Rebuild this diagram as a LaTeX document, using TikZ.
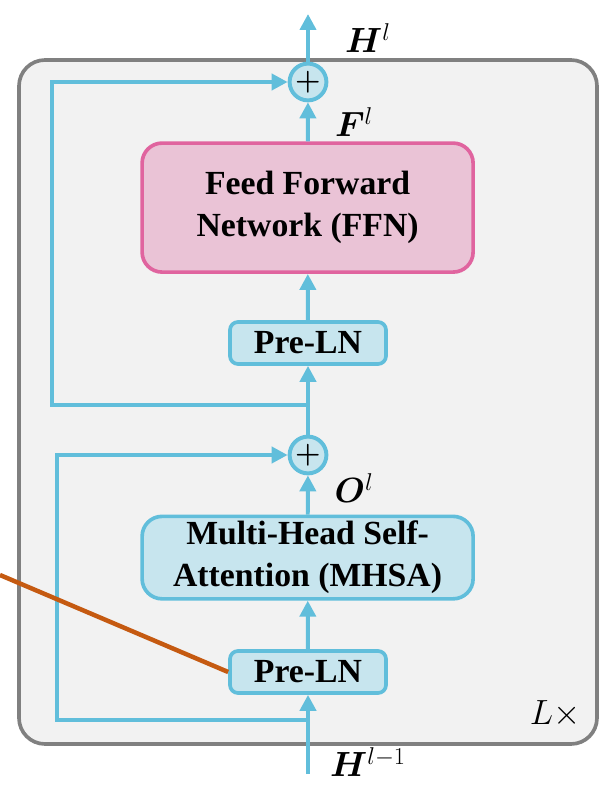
\documentclass[tikz,border=0pt]{standalone}
\usepackage{fontspec}
\setmainfont{Liberation Serif}
\usepackage{amsmath}
\usepackage{amssymb}
\usepackage{bm}
\usepackage{xcolor}
\usetikzlibrary{arrows.meta, positioning, calc}
\definecolor{lnblue}{RGB}{97, 190, 219}
\definecolor{lnfill}{RGB}{199, 229, 238}
\definecolor{ffnpink}{RGB}{224, 100, 159}
\definecolor{ffnfill}{RGB}{234, 195, 214}
\definecolor{blockgray}{RGB}{128, 128, 128}
\definecolor{blockfill}{RGB}{242, 242, 242}
\definecolor{linkorange}{RGB}{197, 90, 17}
\tikzstyle{layer} = [rectangle, rounded corners=0.5cm, minimum width=8.275cm, align=center, draw=lnblue, fill=lnfill, line width=2.6pt, font=\fontsize{24}{30}\selectfont\bfseries]
\tikzstyle{norm} = [rectangle, rounded corners=0.2cm, minimum width=3.9cm, minimum height=1.05cm, text centered, draw=lnblue, fill=lnfill, line width=2.6pt, font=\fontsize{24}{30}\selectfont\bfseries]
\tikzstyle{adder} = [circle, minimum size=0.92cm, inner sep=0pt, draw=lnblue, fill=lnfill, line width=2.8pt, font=\fontsize{20}{24}\selectfont]
\tikzstyle{arrow} = [line width=2.8pt, draw=lnblue, -{Triangle[length=0.4cm, width=0.4cm]}]
\tikzstyle{tag} = [font=\fontsize{27}{30}\selectfont]

\begin{document}
\begin{tikzpicture}
\useasboundingbox (0,0) rectangle (15.05,-19.725);

% Encoder block
\draw [blockgray, fill=blockfill, line width=2.6pt, rounded corners=0.65cm] (0.475,-1.5) rectangle (14.925,-18.6);
\node (rep) [tag, font=\fontsize{25}{30}\selectfont] at (13.875,-17.85) {$L\times$};

% Attention sub-layer
\node (prelnA) [norm] at (7.7,-16.8) {Pre-LN};
\node (mhsa) [layer, minimum height=1.975cm] at (7.69,-13.94) {Multi-Head Self-\\Attention (MHSA)};
\node (addA) [adder] at (7.7,-11.375) {$\bm{+}$};
\node (olab) [tag] at (8.85,-12.2) {$\bm{O}^{l}$};

% Feed forward sub-layer
\node (prelnB) [norm] at (7.7,-8.575) {Pre-LN};
\node (ffn) [layer, minimum height=3.225cm, draw=ffnpink, fill=ffnfill] at (7.69,-5.19) {Feed Forward\\Network (FFN)};
\node (addB) [adder] at (7.7,-2.05) {$\bm{+}$};
\node (flab) [tag] at (8.85,-3.05) {$\bm{F}^{l}$};

% Input and output
\coordinate (in) at (7.7,-19.35);
\coordinate (out) at (7.7,-0.35);
\node (hin) [tag] at (9.2,-19.05) {$\bm{H}^{l-1}$};
\node (hout) [tag] at (9.2,-0.95) {$\bm{H}^{l}$};

% Residual branches
\coordinate (branchA) at (7.7,-18.0);
\coordinate (skipA) at (1.425,-18.0);
\coordinate (branchB) at (7.7,-10.125);
\coordinate (skipB) at (1.3,-10.125);

% Arrows
\draw [arrow] (in) -- (prelnA);
\draw [arrow] (prelnA) -- (mhsa);
\draw [arrow] (mhsa) -- (addA);
\draw [arrow] (addA) -- (prelnB);
\draw [arrow] (prelnB) -- (ffn);
\draw [arrow] (ffn) -- (addB);
\draw [arrow] (addB) -- (out);
\draw [arrow] (branchA) -- (skipA) |- (addA);
\draw [arrow] (branchB) -- (skipB) |- (addB);

% Link to outside
\coordinate (ext) at (0,-14.375);
\draw [linkorange, line width=3.2pt] (ext) -- (prelnA.west);

\end{tikzpicture}
\end{document}
